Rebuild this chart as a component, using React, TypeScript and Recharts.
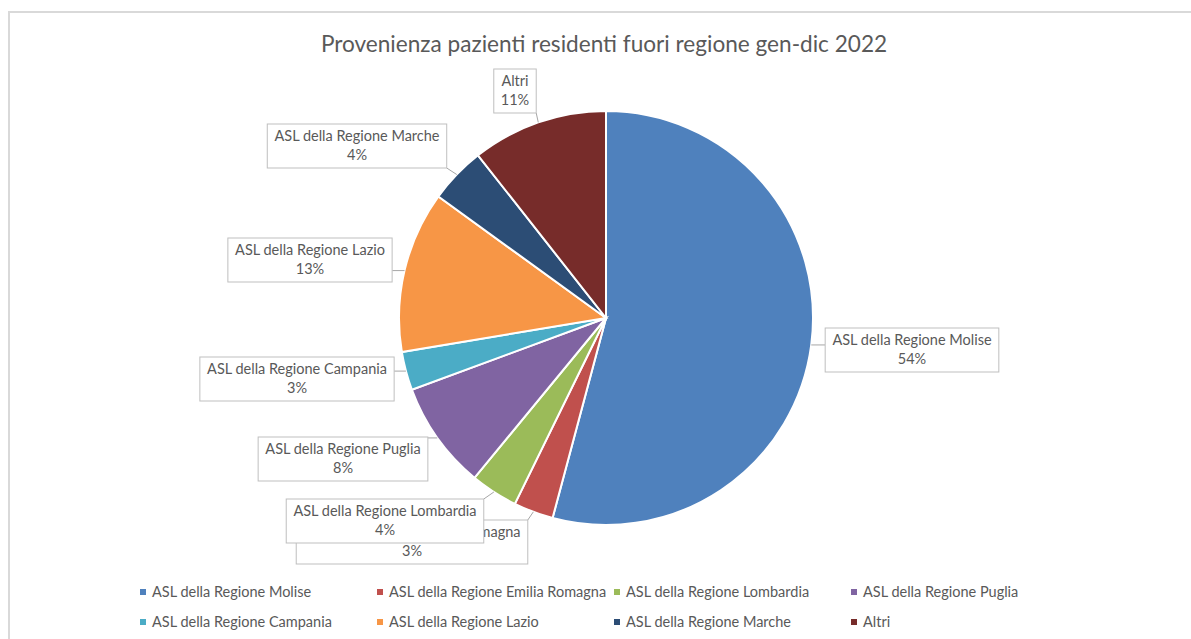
import React from 'react';
import { PieChart, Pie, Cell, Legend } from 'recharts';

const CATEGORIES = [
  'ASL della Regione Molise',
  'ASL della Regione Emilia Romagna',
  'ASL della Regione Lombardia',
  'ASL della Regione Puglia',
  'ASL della Regione Campania',
  'ASL della Regione Lazio',
  'ASL della Regione Marche',
  'Altri',
];
const SHARES = [54.1, 3.1, 3.7, 8.4, 3.0, 12.6, 4.4, 10.6];
const COLORS = ['#4F81BD', '#C0504D', '#9BBB59', '#8064A2', '#4BACC6', '#F79646', '#2C4D75', '#772C2A'];
const TITLE = 'Provenienza pazienti residenti fuori regione gen-dic 2022';

// label box centre offsets relative to the pie centre (layout only)
const LABEL_OFFSETS: [number, number][] = [
  [306, 32], [-194, 224], [-221, 203], [-263, 141], [-309, 61], [-296, -58], [-249, -172], [-91, -227],
];

const data = CATEGORIES.map((name, i) => ({ name, value: SHARES[i] }));
const TOTAL = SHARES.reduce((a, b) => a + b, 0);

const FONT = 'Lato, "Open Sans", sans-serif';
const TEXT_COLOR = '#595959';
const LABEL_SIZE = 14.5;

let measureCtx: CanvasRenderingContext2D | null = null;
function textWidth(t: string, font: string) {
  if (!measureCtx) {
    const c = document.createElement('canvas');
    measureCtx = c.getContext('2d');
  }
  if (!measureCtx) return t.length * 7;
  measureCtx.font = font;
  return measureCtx.measureText(t).width;
}

const RAD = Math.PI / 180;

const renderLabel = (props: any) => {
  const { cx, cy, midAngle, outerRadius, index, value } = props;
  const [ox, oy] = LABEL_OFFSETS[index];
  const bx = cx + ox;
  const by = cy + oy;
  const name = CATEGORIES[index];
  const pct = Math.round((value / TOTAL) * 100) + '%';
  const f = `${LABEL_SIZE}px ${FONT}`;
  const w = Math.max(textWidth(name, f), textWidth(pct, f)) + 14;
  const h = 44;
  const x0 = bx - w / 2;
  const y0 = by - h / 2;
  const px = cx + outerRadius * Math.cos(-midAngle * RAD);
  const py = cy + outerRadius * Math.sin(-midAngle * RAD);
  const qx = Math.min(Math.max(px, x0), x0 + w);
  const qy = Math.min(Math.max(py, y0), y0 + h);
  return (
    <g key={`lbl-${index}`}>
      <line x1={px} y1={py} x2={qx} y2={qy} stroke="#A6A6A6" strokeWidth={1} />
      <rect x={x0} y={y0} width={w} height={h} fill="#FFFFFF" stroke="#BFBFBF" strokeWidth={1} />
      <text x={bx} y={by - 5} textAnchor="middle" fontSize={LABEL_SIZE} fontFamily={FONT} fill={TEXT_COLOR}>
        {name}
      </text>
      <text x={bx} y={by + 14} textAnchor="middle" fontSize={LABEL_SIZE} fontFamily={FONT} fill={TEXT_COLOR}>
        {pct}
      </text>
    </g>
  );
};

const renderLegend = () => (
  <div style={{ position: 'relative', width: 1191, height: 60 }}>
    {CATEGORIES.map((name, i) => {
      const col = i % 4;
      const row = Math.floor(i / 4);
      return (
        <div
          key={name}
          style={{
            position: 'absolute',
            left: 140 + col * 237,
            top: row * 30,
            display: 'flex',
            alignItems: 'center',
            fontFamily: FONT,
            fontSize: 14.5,
            color: TEXT_COLOR,
            whiteSpace: 'nowrap',
            lineHeight: '16px',
          }}
        >
          <span style={{ display: 'inline-block', width: 6, height: 6, background: COLORS[i], marginRight: 6 }} />
          {name}
        </div>
      );
    })}
  </div>
);

export default function App() {
  return (
    <div style={{ position: 'fixed', left: 0, top: 0, width: 1191, height: 639, overflow: 'hidden', background: '#fff' }}>
      <div
        style={{
          position: 'absolute',
          left: 8,
          top: 11,
          width: 1300,
          height: 800,
          borderLeft: '2px solid #D9D9D9',
          borderTop: '2px solid #D9D9D9',
        }}
      />
      <div
        style={{
          position: 'absolute',
          left: 0,
          top: 29,
          width: 1208,
          textAlign: 'center',
          fontFamily: FONT,
          fontSize: 22.6,
          color: TEXT_COLOR,
          lineHeight: '30px',
        }}
      >
        {TITLE}
      </div>
      <div style={{ position: 'absolute', left: 0, top: 0 }}>
        <PieChart width={1191} height={639} margin={{ top: 0, right: 0, bottom: 0, left: 0 }}>
          <Pie
            data={data}
            dataKey="value"
            nameKey="name"
            cx={606}
            cy={318}
            outerRadius={207}
            startAngle={90}
            endAngle={-270}
            stroke="#FFFFFF"
            strokeWidth={2}
            label={renderLabel}
            labelLine={false}
            isAnimationActive={false}
          >
            {data.map((d, i) => (
              <Cell key={d.name} fill={COLORS[i]} />
            ))}
          </Pie>
          <Legend
            content={renderLegend}
            wrapperStyle={{ position: 'absolute', left: 0, top: 584, width: 1191, height: 60 }}
          />
        </PieChart>
      </div>
    </div>
  );
}
